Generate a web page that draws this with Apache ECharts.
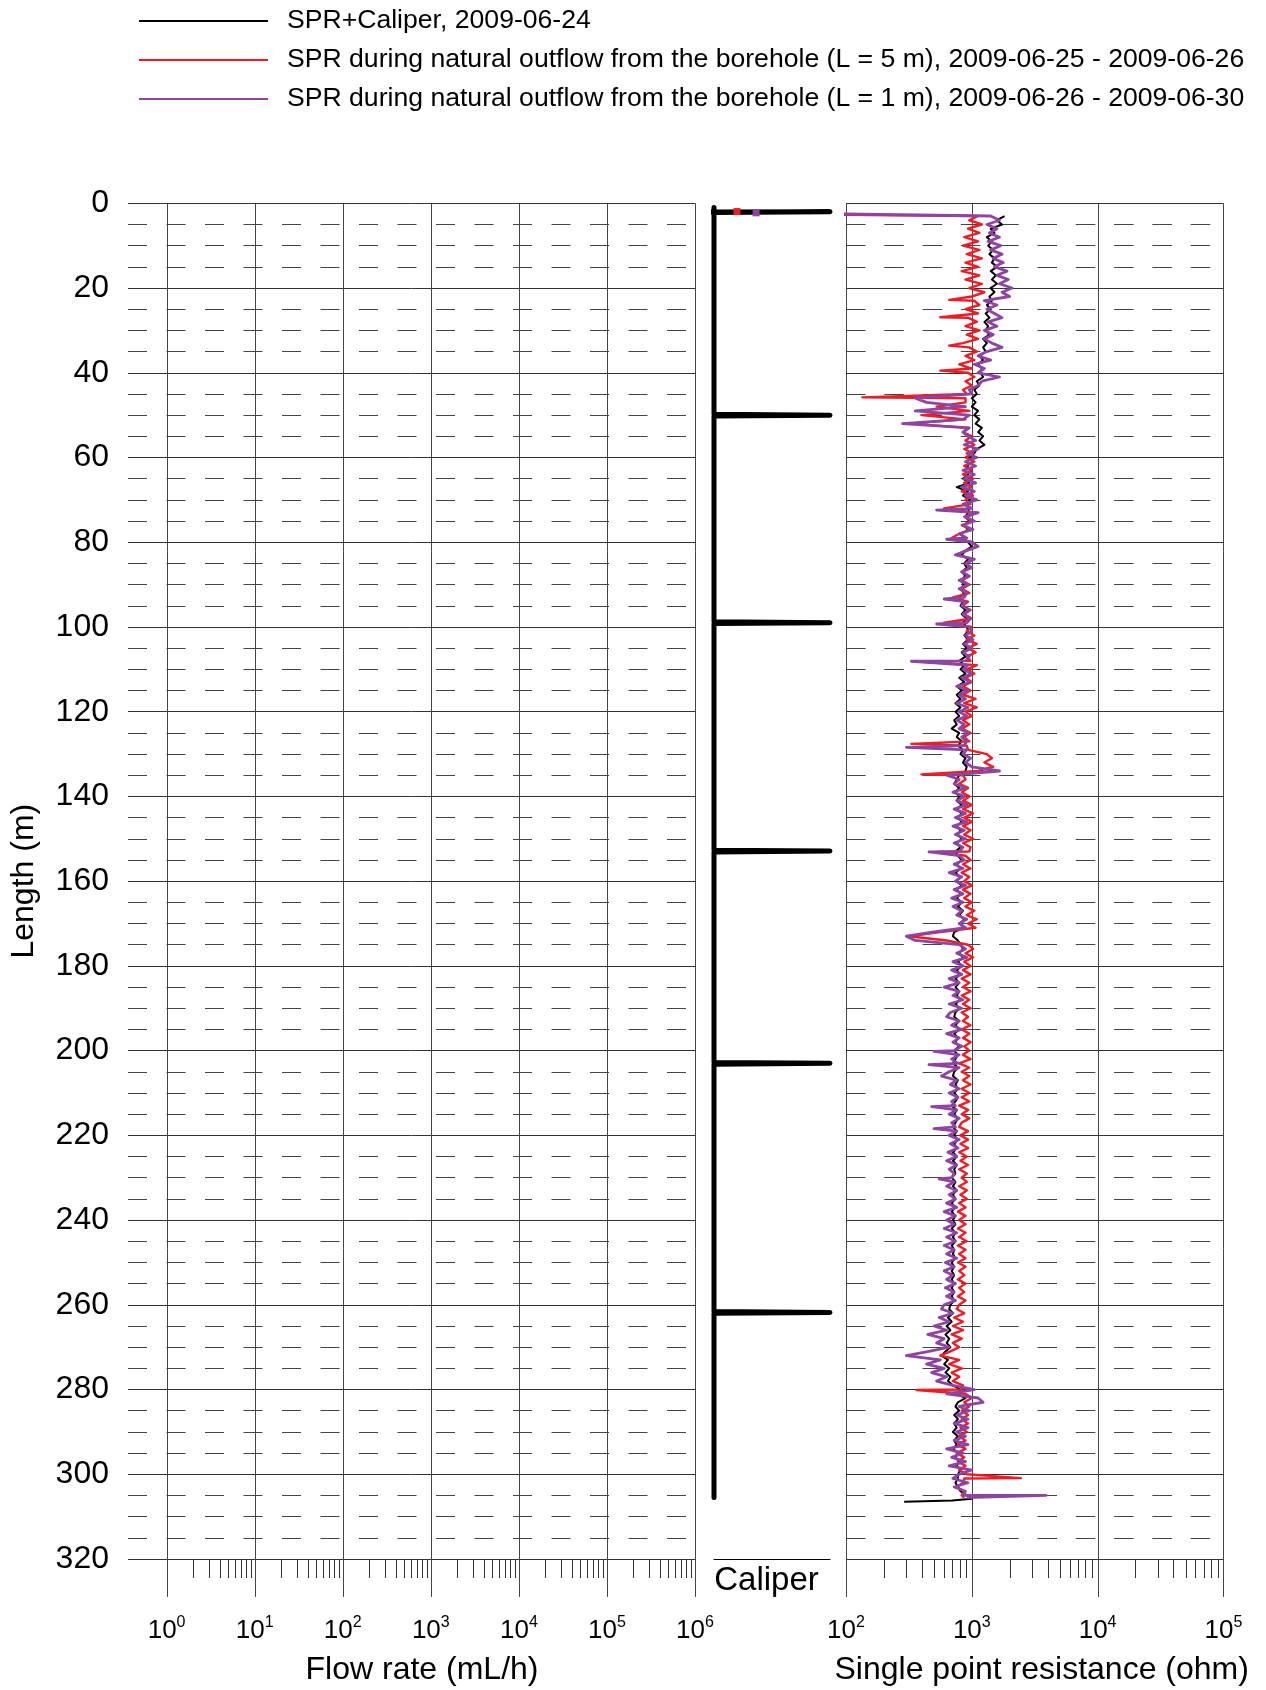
<!DOCTYPE html>
<html><head><meta charset="utf-8">
<script src="https://cdn.jsdelivr.net/npm/echarts@6/dist/echarts.min.js"></script>
<style>html,body{margin:0;padding:0;background:#fff}#c{width:1266px;height:1690px}</style>
</head><body><div id="c"></div>
<script>
// ---------- data ----------
const depth = [
3,4,5,6,7,8,9,
10,11,12,13,14,15,16,17,18,19,
20,21,22,23,24,25,26,27,28,29,
30,31,32,33,34,35,36,37,38,39,
40,41,42,43,44,45,46,47,48,49,
50,51,52,53,54,55,56,57,58,59,
60,61,62,63,64,65,66,67,68,69,
70,71,72,73,74,75,76,77,78,79,
80,81,82,83,84,85,86,87,88,89,
90,91,92,93,94,95,96,97,98,99,
100,101,102,103,104,105,106,107,108,109,
110,111,112,113,114,115,116,117,118,119,
120,121,122,123,124,125,126,127,128,129,
130,131,132,133,134,135,136,137,138,139,
140,141,142,143,144,145,146,147,148,149,
150,151,152,153,154,155,156,157,158,159,
160,161,162,163,164,165,166,167,168,169,
170,171,172,173,174,175,176,177,178,179,
180,181,182,183,184,185,186,187,188,189,
190,191,192,193,194,195,196,197,198,199,
200,201,202,203,204,205,206,207,208,209,
210,211,212,213,214,215,216,217,218,219,
220,221,222,223,224,225,226,227,228,229,
230,231,232,233,234,235,236,237,238,239,
240,241,242,243,244,245,246,247,248,249,
250,251,252,253,254,255,256,257,258,259,
260,261,262,263,264,265,266,267,268,269,
270,271,272,273,274,275,276,277,278,279,
280,281,282,283,284,285,286,287,288,289,
290,291,292,293,294,295,296,297,298,299,
300,301,302,303,304,305];

// SPR+Caliper, 2009-06-24 (ohm)
const sprBlack = [
1820,1585,1738,1413,1514,1318,1445,
1349,1479,1380,1514,1445,1585,1413,1549,1445,1585,
1413,1514,1380,1445,1318,1413,1288,1380,1259,1349,
1288,1380,1230,1318,1230,1288,1148,1230,1122,1202,
1175,1230,1096,1148,1047,1096,1000,1072,1000,1122,
1047,1148,1072,1202,1122,1230,1148,1259,1096,1047,
955,1023,912,1000,933,851,955,759,933,851,
977,871,955,933,891,955,871,933,832,851,
933,1000,891,832,933,871,912,832,891,813,
871,813,871,794,851,813,891,832,912,851,
912,933,871,933,851,912,832,891,794,871,
813,891,794,871,759,832,759,813,741,813,
741,794,724,759,692,794,759,832,776,851,
813,891,851,912,891,794,759,724,794,741,
794,759,832,759,832,776,832,759,813,776,
832,759,813,741,776,832,759,813,741,813,
759,832,759,813,759,832,776,851,794,871,
813,851,724,708,776,813,851,794,851,776,
832,759,813,741,794,741,794,759,813,741,
794,741,724,794,741,794,724,776,741,794,
724,776,741,708,776,724,708,776,741,776,
724,776,741,692,759,724,776,741,708,759,
724,776,724,759,708,759,708,759,724,741,
692,741,708,759,708,741,692,741,692,741,
708,741,692,741,708,741,692,724,708,741,
692,724,692,724,692,724,692,724,692,724,
676,661,708,646,692,631,676,617,661,631,
676,617,575,646,603,661,617,676,646,708,
813,759,891,776,741,794,724,776,724,759,
708,776,724,759,708,776,741,794,759,813,
776,776,741,776,813,912];

// SPR natural outflow L = 5 m (ohm)
const sprRed = [
1122,955,1202,933,1148,871,1122,
851,1148,912,1202,891,1122,832,1148,891,1202,
955,1259,1000,1047,1148,891,1122,933,1096,891,
1148,912,1122,851,955,1096,891,1047,794,1000,
933,1047,891,1000,851,912,891,891,525,955,
398,891,316,933,851,1000,891,1047,871,1023,
891,1047,871,1000,851,1023,871,1000,832,1023,
891,977,603,1047,871,1000,832,977,794,692,
1023,1096,891,759,1023,891,977,832,955,832,
955,832,955,708,933,851,977,871,1000,603,
1000,912,1047,912,1096,933,1072,912,977,1096,
912,1047,891,1000,851,977,851,1072,871,1096,
891,1000,851,955,832,977,871,955,912,933,
1318,1445,1259,1479,1122,851,891,794,933,832,
955,851,1000,851,1023,871,1000,851,977,871,
1023,851,977,955,891,977,851,977,832,955,
871,1000,851,977,871,1000,891,1047,912,1096,
933,1072,562,316,631,933,1023,891,1023,871,
977,851,977,832,955,851,977,832,955,851,
977,832,933,851,977,832,955,851,977,871,
955,851,977,794,955,832,955,851,977,832,
955,832,955,794,933,832,955,832,794,933,
813,933,813,933,794,912,813,933,794,912,
832,912,794,912,813,912,794,891,776,891,
794,891,776,891,794,912,776,891,794,891,
776,891,794,871,776,891,794,871,776,891,
794,759,871,724,851,708,851,692,832,708,
794,676,562,794,661,832,692,794,708,851,
832,891,1000,871,955,832,933,832,933,813,
912,794,891,776,891,759,871,776,891,794,
912,871,851,759,871,832];

// SPR natural outflow L = 1 m (ohm)
const sprPurple = [
1413,1660,1318,1585,1380,1660,1349,
1698,1413,1738,1479,1778,1514,1905,1585,1950,1660,
2089,1738,1995,1259,1585,1318,1514,1738,1349,1585,
1259,1479,1259,1445,1738,1318,1122,1413,1047,1259,
1122,1660,1202,1122,955,1000,355,437,891,355,
955,851,282,955,851,933,1072,871,1122,912,
1096,891,1072,851,1047,871,1072,832,1047,891,
1096,851,1000,1122,891,1047,851,1023,794,912,
1000,1122,912,741,1047,891,1000,832,955,794,
933,794,912,871,891,832,955,851,977,912,
955,1000,891,1023,871,1000,851,955,891,933,
851,1000,832,977,759,933,794,891,759,933,
794,912,759,871,794,933,832,912,871,912,
851,977,891,1000,1660,631,794,724,891,708,
871,759,912,724,891,741,912,708,871,741,
891,724,851,794,794,871,724,851,661,832,
741,891,724,851,692,851,708,832,759,912,
794,891,501,302,355,794,891,759,912,708,
851,692,832,661,794,603,794,708,851,661,
832,676,631,794,692,832,631,794,708,832,
724,794,692,776,794,661,575,759,676,794,
661,776,692,741,759,661,794,692,741,759,
661,794,676,776,646,759,631,759,661,724,
692,724,631,759,661,741,631,759,603,741,
631,724,603,759,631,741,603,724,631,759,
617,724,603,708,631,741,617,724,631,741,
603,575,708,550,661,501,631,447,603,525,
661,457,302,562,437,603,479,631,525,708,
1047,631,1122,1230,794,955,759,933,724,933,
759,891,724,933,631,851,692,891,661,1000,
794,708,933,724,891,851];

// isolated needle spikes: [ohm, depth]
const redSpikes = [[661, 22.8], [562, 26.9], [661, 33.6], [562, 39.5], [135, 45.8], [355, 108.1],
  [331, 127.6], [398, 134.8], [525, 153.1], [363, 280.1], [2455, 300.9]];
const purpleSpikes = [[525, 72.4], [631, 79.3], [603, 93.4], [525, 99.3], [331, 108.1], [302, 128.4],
  [457, 153.1], [501, 200.2], [457, 203.3], [479, 213.2], [501, 218.4], [550, 230.3], [3890, 305.0]];

// start / end points of each trace: [ohm, depth]
const blackHead = [];
const blackTail = [[1000, 305.8], [700, 306.2], [290, 306.5]];
const redHead = [[13.6, 1.95], [16, 2.5]];
const redTail = [[871, 305.5]];
const purpleHead = [[19.3, 2.25]];
const purpleTail = [[912, 305.5]];

// Caliper trace (relative caliper value, depth)
const caliperVal   = [0, 0, -0.12, 1, 0, 0, 1, 0, 0, 1, 0, 0, 1, 0, 0, 1, 0, 0, 1, 0, 0];
const caliperDepth = [1.0, 1.95, 2.05, 2.0, 2.2, 49.8, 50.0, 50.2, 98.8, 99.0, 99.2, 152.7, 152.9, 153.1, 202.8, 203.0, 203.2, 261.6, 261.8, 262.0, 305.5];

// axis ticks
const flowDecades = [1, 10, 100, 1000, 10000, 100000, 1000000];
const sprDecades = [100, 1000, 10000, 100000];
const minorMult = [2, 3, 4, 5, 6, 7, 8, 9];
const depthRange = [0, 320];

const seriesNames = [
  'SPR+Caliper, 2009-06-24',
  'SPR during natural outflow from the borehole (L = 5 m), 2009-06-25 - 2009-06-26',
  'SPR during natural outflow from the borehole (L = 1 m), 2009-06-26 - 2009-06-30'
];

// ---------- chart ----------
const FONT = "'Liberation Sans', Arial, Helvetica, sans-serif";
const GRID_TOP = 203.3, GRID_H = 1355.7;

function minorValues(decades) {
  const out = [];
  for (let i = 0; i < decades.length - 1; i++) minorMult.forEach(m => out.push(m * decades[i]));
  return out;
}
function tickSeries(axisIdx, values, ext, fromTop, color) {
  return {
    type: 'custom', xAxisIndex: axisIdx, yAxisIndex: axisIdx, silent: true, z: 1, clip: false,
    data: values.map(v => [v, depthRange[1]]),
    encode: { x: 0, y: 1 },
    renderItem: function (params, api) {
      const v = api.value(0);
      const pTop = api.coord([v, depthRange[0]]);
      const pBot = api.coord([v, depthRange[1]]);
      const x = Math.round(pTop[0]) + 0.5;
      return {
        type: 'line',
        shape: { x1: x, y1: fromTop ? pTop[1] : pBot[1], x2: x, y2: pBot[1] + ext },
        style: { stroke: color, lineWidth: 1 }
      };
    }
  };
}
function powLabel(v) {
  const e = Math.log10(v), r = Math.round(e);
  if (Math.abs(e - r) > 1e-6) return '';
  return '{b|10}{s|' + r + '}';
}
const labelRich = {
  b: { fontSize: 26, fontFamily: FONT, color: '#000', lineHeight: 32 },
  s: { fontSize: 16, fontFamily: FONT, color: '#000', verticalAlign: 'top', lineHeight: 18 }
};
function pairs(vals, head, tail, spikes) {
  const body = depth.map((d, i) => [vals[i], d]).concat(spikes || []);
  body.sort((a, b) => a[1] - b[1]);
  return head.concat(body).concat(tail);
}
function withMarker(arr) {
  if (!arr.length) return arr;
  const out = arr.slice();
  out[0] = { value: arr[0], symbol: 'rect', symbolSize: 7 };
  return out;
}

const chart = echarts.init(document.getElementById('c'), null, { renderer: 'canvas' });
const noAxisBits = { axisLine: { show: false }, axisTick: { show: false }, splitLine: { show: false } };

const option = {
  animation: false,
  backgroundColor: '#fff',
  textStyle: { fontFamily: FONT },
  legend: {
    orient: 'vertical', left: 134, top: 1,
    icon: 'rect',
    itemWidth: 129, itemHeight: 2, itemGap: 9,
    itemStyle: { borderWidth: 0 },
    selectedMode: false,
    textStyle: { fontSize: 26.6, fontFamily: FONT, color: '#000', lineHeight: 30, padding: [0, 0, 0, 14] },
    data: seriesNames
  },
  grid: [
    { left: 128, top: GRID_TOP, width: 567, height: GRID_H, containLabel: false, outerBoundsMode: 'none' },
    { left: 714, top: GRID_TOP, width: 116, height: GRID_H, containLabel: false, outerBoundsMode: 'none' },
    { left: 846, top: GRID_TOP, width: 377.4, height: GRID_H, containLabel: false, outerBoundsMode: 'none' }
  ],
  xAxis: [
    Object.assign({
      type: 'log', gridIndex: 0, logBase: 10, min: 0.3644, max: 1000000, splitNumber: 8,
      axisLabel: { margin: 56, formatter: powLabel, rich: labelRich, showMinLabel: true, showMaxLabel: true },
      name: 'Flow rate (mL/h)', nameLocation: 'middle', nameGap: 95,
      nameTextStyle: { fontSize: 32, fontFamily: FONT, color: '#000', padding: [0, 0, 0, 21] }
    }, noAxisBits),
    {
      type: 'value', gridIndex: 1, min: 0, max: 1,
      axisLine: { show: true, onZero: false, lineStyle: { color: '#000', width: 1 } },
      axisTick: { show: false }, axisLabel: { show: false }, splitLine: { show: false },
      name: 'Caliper', nameLocation: 'middle', nameGap: 5,
      nameTextStyle: { fontSize: 33, fontFamily: FONT, color: '#000', padding: [0, 11, 0, 0] }
    },
    Object.assign({
      type: 'log', gridIndex: 2, logBase: 10, min: 100, max: 100000, splitNumber: 5,
      axisLabel: { margin: 56, formatter: powLabel, rich: labelRich, showMinLabel: true, showMaxLabel: true },
      name: 'Single point resistance (ohm)', nameLocation: 'middle', nameGap: 95,
      nameTextStyle: { fontSize: 32, fontFamily: FONT, color: '#000', padding: [0, 0, 0, 14] }
    }, noAxisBits)
  ],
  yAxis: [
    {
      type: 'value', gridIndex: 0, inverse: true, min: depthRange[0], max: depthRange[1], interval: 20,
      axisLine: { show: false }, axisTick: { show: false },
      axisLabel: { fontSize: 32, fontFamily: FONT, color: '#000', margin: 19 },
      splitLine: { show: true, lineStyle: { color: '#333', width: 1 } },
      minorTick: { show: false, splitNumber: 4 },
      minorSplitLine: { show: true, lineStyle: { color: '#444', width: 1, type: [19, 19.5] } },
      name: 'Length (m)', nameLocation: 'middle', nameGap: 88, nameRotate: 90,
      nameTextStyle: { fontSize: 32, fontFamily: FONT, color: '#000' }
    },
    {
      type: 'value', gridIndex: 1, inverse: true, min: depthRange[0], max: depthRange[1], interval: 20,
      axisLine: { show: false }, axisTick: { show: false }, axisLabel: { show: false }, splitLine: { show: false }
    },
    {
      type: 'value', gridIndex: 2, inverse: true, min: depthRange[0], max: depthRange[1], interval: 20,
      axisLine: { show: false }, axisTick: { show: false }, axisLabel: { show: false },
      splitLine: { show: true, lineStyle: { color: '#333', width: 1 } },
      minorTick: { show: false, splitNumber: 4 },
      minorSplitLine: { show: true, lineStyle: { color: '#444', width: 1, type: [19.5, 18.8] } }
    }
  ],
  series: [
    tickSeries(0, flowDecades, 38, true, '#444'),
    tickSeries(0, minorValues(flowDecades), 19, false, '#333'),
    tickSeries(2, sprDecades, 38, true, '#444'),
    tickSeries(2, minorValues(sprDecades), 19, false, '#333'),
    {
      type: 'line', name: 'Caliper', xAxisIndex: 1, yAxisIndex: 1, silent: true, clip: false, z: 3,
      symbol: 'none', data: caliperVal.map((v, i) => [v, caliperDepth[i]]),
      lineStyle: { color: '#000', width: 5, cap: 'round', join: 'round' }
    },
    {
      type: 'line', name: seriesNames[0], xAxisIndex: 2, yAxisIndex: 2, silent: true, clip: false, z: 4,
      symbol: 'none', data: pairs(sprBlack, blackHead, blackTail, []),
      lineStyle: { color: '#000', width: 2, join: 'round' }, itemStyle: { color: '#000' }
    },
    {
      type: 'line', name: seriesNames[1], xAxisIndex: 2, yAxisIndex: 2, silent: true, clip: false, z: 5,
      symbol: 'none', data: withMarker(pairs(sprRed, redHead, redTail, redSpikes)),
      lineStyle: { color: '#ee1c25', width: 2.4, join: 'round' }, itemStyle: { color: '#ee1c25' }
    },
    {
      type: 'line', name: seriesNames[2], xAxisIndex: 2, yAxisIndex: 2, silent: true, clip: false, z: 6,
      symbol: 'none', data: withMarker(pairs(sprPurple, purpleHead, purpleTail, purpleSpikes)),
      lineStyle: { color: '#8e45a1', width: 2.8, join: 'round' }, itemStyle: { color: '#8e45a1' }
    }
  ]
};
chart.setOption(option);
</script>
</body></html>
